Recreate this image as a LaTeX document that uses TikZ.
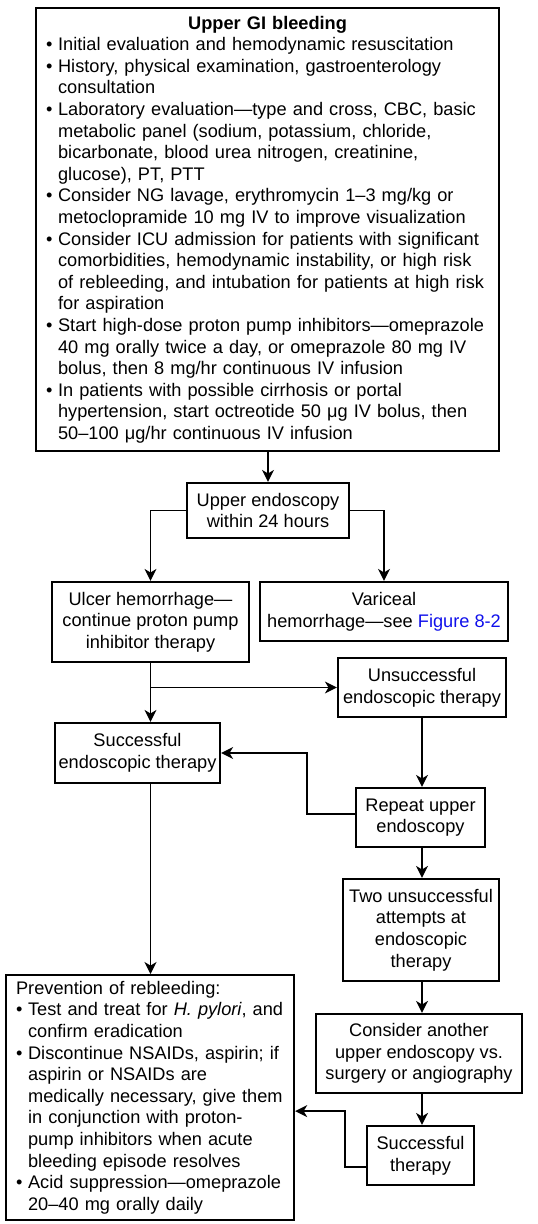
\documentclass[tikz,border=0pt]{standalone}
\usepackage{fontspec}
\setmainfont{Liberation Sans}
\usetikzlibrary{arrows.meta}
\definecolor{figblue}{RGB}{15,15,235}
\newcommand{\bitem}{\makebox[6pt][l]{\textbullet}}
\newcommand{\bcont}{\hspace*{6pt}}

\begin{document}
\begin{tikzpicture}[x=0.5pt,y=-0.5pt,>={Stealth[length=6pt,width=6pt,inset=1.8pt]},
  box/.style={draw,line width=1.1pt,align=center,inner sep=0pt,
    font=\fontsize{9.1pt}{10.8pt}\selectfont},
  listbox/.style={box,align=left,anchor=north west,inner xsep=5pt,inner ysep=3pt},
  link/.style={->,line width=0.75pt}]
  \useasboundingbox (0,0) rectangle (537,1224);
  % initial workup
  \node[listbox,text width=221.5pt,minimum height=221.5pt] (eval) at (35,7) {%
    \makebox[\linewidth]{\bfseries Upper GI bleeding}\\
    \bitem Initial evaluation and hemodynamic resuscitation\\
    \bitem History, physical examination, gastroenterology\\
    \bcont consultation\\
    \bitem Laboratory evaluation---type and cross, CBC, basic\\
    \bcont metabolic panel (sodium, potassium, chloride,\\
    \bcont bicarbonate, blood urea nitrogen, creatinine,\\
    \bcont glucose), PT, PTT\\
    \bitem Consider NG lavage, erythromycin 1--3 mg/kg or\\
    \bcont metoclopramide 10 mg IV to improve visualization\\
    \bitem Consider ICU admission for patients with significant\\
    \bcont comorbidities, hemodynamic instability, or high risk\\
    \bcont of rebleeding, and intubation for patients at high risk\\
    \bcont for aspiration\\
    \bitem Start high-dose proton pump inhibitors---omeprazole\\
    \bcont 40 mg orally twice a day, or omeprazole 80 mg IV\\
    \bcont bolus, then 8 mg/hr continuous IV infusion\\
    \bitem In patients with possible cirrhosis or portal\\
    \bcont hypertension, start octreotide 50 μg IV bolus, then\\
    \bcont 50--100 μg/hr continuous IV infusion};
  % endoscopy and findings
  \node[box,minimum width=81pt,minimum height=27.5pt] (endo) at (268,510.5)
    {Upper endoscopy\\within 24 hours};
  \node[box,minimum width=98.5pt,minimum height=40pt] (ulcer) at (150.5,622)
    {Ulcer hemorrhage---\\continue proton pump\\inhibitor therapy};
  \node[box,minimum width=124pt,minimum height=29.5pt] (varix) at (384,611.5)
    {Variceal\\hemorrhage---see \textcolor{figblue}{Figure 8-2}};
  \node[box,minimum width=84pt,minimum height=29.5pt] (unsucc) at (422,687.5)
    {Unsuccessful\\endoscopic therapy};
  \node[box,minimum width=82.5pt,minimum height=30pt] (succ) at (137.5,753)
    {Successful\\endoscopic therapy};
  \node[box,minimum width=64.5pt,minimum height=29.5pt] (repeat) at (420.5,817.5)
    {Repeat upper\\endoscopy};
  \node[box,minimum width=78pt,minimum height=51pt] (twice) at (421,930)
    {Two unsuccessful\\attempts at\\endoscopic\\therapy};
  \node[box,minimum width=103pt,minimum height=39.5pt] (other) at (419,1053.5)
    {Consider another\\upper endoscopy vs.\\surgery or angiography};
  \node[box,minimum width=53.5pt,minimum height=29.5pt] (succth) at (420.5,1155.5)
    {Successful\\therapy};
  % rebleeding prevention
  \node[listbox,text width=134pt,minimum height=122.5pt] (prevent) at (5,974) {%
    Prevention of rebleeding:\\
    \bitem Test and treat for \textit{H. pylori}, and\\
    \bcont confirm eradication\\
    \bitem Discontinue NSAIDs, aspirin; if\\
    \bcont aspirin or NSAIDs are\\
    \bcont medically necessary, give them\\
    \bcont in conjunction with proton-\\
    \bcont pump inhibitors when acute\\
    \bcont bleeding episode resolves\\
    \bitem Acid suppression---omeprazole\\
    \bcont 20--40 mg orally daily};
  % connectors
  \draw[link] (endo.north |- eval.south) -- (endo.north);
  \draw[link] (endo.west) -| (ulcer.north);
  \draw[link] (endo.east) -| (varix.north);
  \draw[link] (ulcer.south) -- (ulcer.south |- succ.north);
  \draw[link] (ulcer.south |- unsucc.west) -- (unsucc.west);
  \draw[link] (unsucc.south) -- (unsucc.south |- repeat.north);
  \draw[link] ([yshift=1.75pt]repeat.west) -- ++(-48,0) |- (succ.east);
  \draw[link] (unsucc.south |- repeat.south) -- (unsucc.south |- twice.north);
  \draw[link] (unsucc.south |- twice.south) -- (unsucc.south |- other.north);
  \draw[link] (unsucc.south |- other.south) -- (unsucc.south |- succth.north);
  \draw[link] (ulcer.south |- succ.south) -- (ulcer.south |- prevent.north);
  \draw[link] ([yshift=-5.75pt]succth.west) -- ++(-21,0) |- ([yshift=-6.75pt]prevent.east);
\end{tikzpicture}
\end{document}
